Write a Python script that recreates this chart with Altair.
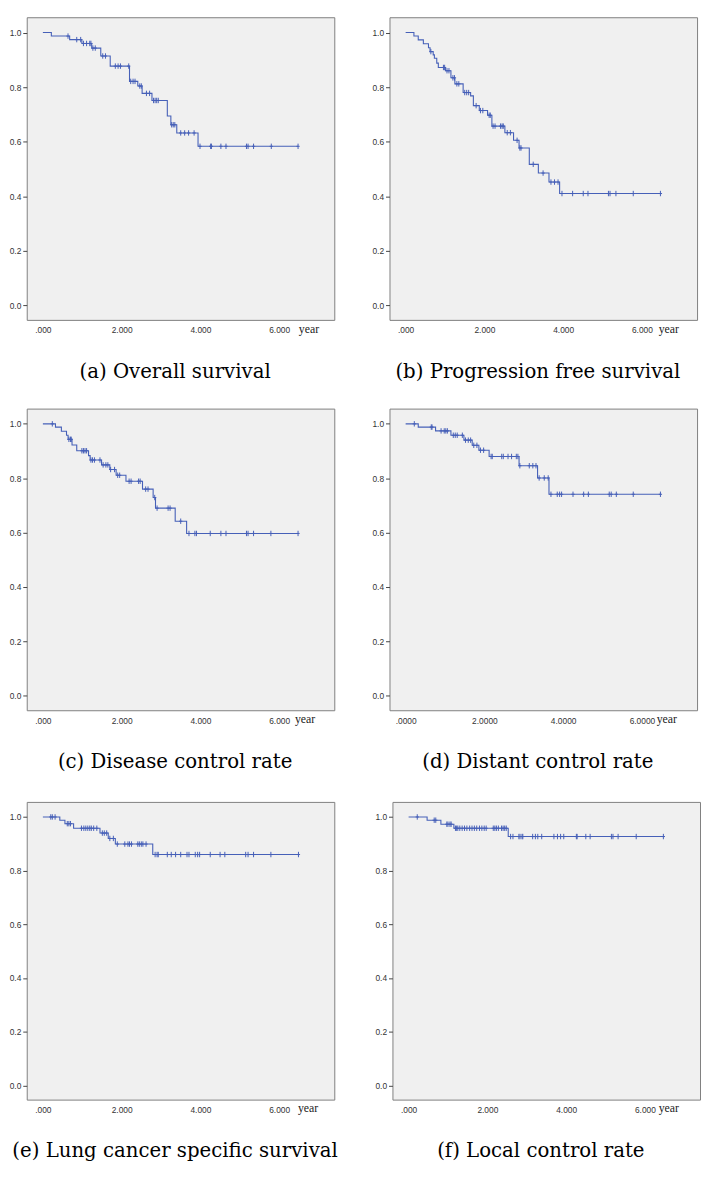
import altair as alt
import pandas as pd

BLUE = "#4660b8"
XDOM = [-0.41, 7.40]
YDOM = [-0.053, 1.056]
X_TICKS = [0, 2, 4, 6]
Y_TICKS = [0.0, 0.2, 0.4, 0.6, 0.8, 1.0]

# (a) Overall survival
a_event_t = [0.215, 0.68, 0.99, 1.24, 1.47, 1.71, 2.20, 2.41, 2.52, 2.77, 3.16, 3.25, 3.40, 3.94]
a_event_s = [0.987, 0.974, 0.960, 0.943, 0.914, 0.877, 0.821, 0.804, 0.777, 0.751, 0.694, 0.662, 0.632, 0.583]
a_censor_t = [0.638, 0.86, 0.96, 1.03, 1.11, 1.19, 1.22, 1.27, 1.33, 1.52, 1.59, 1.84, 1.91, 1.97, 2.18,
              2.23, 2.29, 2.34, 2.46, 2.50, 2.63, 2.71, 2.81, 2.85, 2.89, 2.93, 3.27, 3.31, 3.35, 3.50,
              3.60, 3.70, 3.84, 3.99, 4.26, 4.28, 4.52, 4.65, 5.17, 5.21, 5.35, 5.80, 6.48]

# (b) Progression free survival
b_event_t = [0.21, 0.32, 0.45, 0.58, 0.62, 0.70, 0.73, 0.79, 0.83, 1.01, 1.15, 1.25, 1.46, 1.65, 1.72,
             1.87, 2.08, 2.19, 2.52, 2.74, 2.88, 3.14, 3.37, 3.64, 3.91]
b_event_s = [0.987, 0.973, 0.959, 0.944, 0.930, 0.918, 0.906, 0.888, 0.872, 0.860, 0.834, 0.812, 0.780,
             0.768, 0.732, 0.714, 0.697, 0.657, 0.633, 0.605, 0.577, 0.517, 0.485, 0.452, 0.410]
b_censor_t = [0.64, 0.96, 0.99, 1.05, 1.10, 1.20, 1.24, 1.30, 1.35, 1.50, 1.55, 1.60, 1.79, 1.90, 1.96,
              2.12, 2.15, 2.22, 2.27, 2.41, 2.45, 2.48, 2.58, 2.66, 2.83, 2.90, 2.93, 3.24, 3.49, 3.69,
              3.78, 3.87, 3.97, 4.24, 4.51, 4.63, 5.15, 5.19, 5.34, 5.78, 6.47]

# (c) Disease control rate
c_event_t = [0.32, 0.47, 0.60, 0.64, 0.74, 0.86, 1.16, 1.20, 1.49, 1.70, 1.86, 2.11, 2.53, 2.80, 2.86,
             3.36, 3.65]
c_event_s = [0.988, 0.973, 0.958, 0.943, 0.922, 0.901, 0.883, 0.867, 0.849, 0.832, 0.811, 0.789, 0.760,
             0.729, 0.690, 0.642, 0.597]
c_censor_t = [0.24, 0.66, 0.70, 0.72, 0.99, 1.03, 1.07, 1.11, 1.22, 1.26, 1.31, 1.45, 1.53, 1.60, 1.65,
              1.72, 1.82, 1.90, 1.95, 2.19, 2.24, 2.43, 2.47, 2.61, 2.67, 2.84, 2.90, 3.18, 3.23, 3.50,
              3.71, 3.86, 3.90, 4.25, 4.52, 4.65, 5.17, 5.21, 5.35, 5.79, 6.48]

# (d) Distant control rate
d_event_t = [0.32, 0.76, 1.15, 1.48, 1.69, 1.86, 2.12, 2.88, 3.35, 3.64]
d_event_s = [0.988, 0.974, 0.958, 0.940, 0.921, 0.903, 0.880, 0.846, 0.801, 0.741]
d_censor_t = [0.22, 0.65, 0.67, 0.90, 0.98, 1.02, 1.06, 1.21, 1.26, 1.31, 1.44, 1.52, 1.59, 1.65, 1.73,
              1.81, 1.90, 1.98, 2.17, 2.20, 2.44, 2.48, 2.60, 2.69, 2.81, 2.85, 2.90, 3.14, 3.23, 3.31,
              3.39, 3.52, 3.62, 3.69, 3.85, 3.91, 3.96, 4.25, 4.52, 4.64, 5.17, 5.22, 5.35, 5.78, 6.47]

# (e) Lung cancer specific survival
e_event_t = [0.43, 0.56, 0.78, 1.45, 1.66, 1.84, 2.79]
e_event_s = [0.988, 0.975, 0.958, 0.940, 0.920, 0.899, 0.860]
e_censor_t = [0.20, 0.24, 0.31, 0.62, 0.66, 0.70, 0.98, 1.04, 1.09, 1.14, 1.19, 1.23, 1.29, 1.37, 1.51,
              1.56, 1.62, 1.70, 1.79, 1.89, 2.08, 2.16, 2.20, 2.25, 2.41, 2.45, 2.50, 2.54, 2.62, 2.85,
              2.90, 2.93, 3.16, 3.26, 3.37, 3.50, 3.66, 3.71, 3.87, 3.93, 3.98, 4.25, 4.50, 4.62, 5.15,
              5.21, 5.35, 5.79, 6.49]

# (f) Local control rate
f_event_t = [0.47, 0.82, 1.15, 2.53]
f_event_s = [0.988, 0.973, 0.958, 0.927]
f_censor_t = [0.22, 0.65, 0.69, 0.97, 1.00, 1.05, 1.08, 1.19, 1.22, 1.25, 1.30, 1.36, 1.42, 1.48, 1.55,
              1.61, 1.67, 1.73, 1.80, 1.86, 1.92, 1.97, 2.15, 2.19, 2.23, 2.28, 2.36, 2.40, 2.44, 2.48,
              2.59, 2.65, 2.80, 2.83, 2.88, 2.90, 3.15, 3.22, 3.28, 3.38, 3.69, 3.78, 3.86, 3.94, 4.26,
              4.28, 4.50, 4.61, 5.15, 5.19, 5.32, 5.78, 6.47]

captions = ["(a) Overall survival", "(b) Progression free survival", "(c)  Disease control rate",
            "(d)  Distant control rate", "(e) Lung cancer specific survival", "(f)  Local control rate"]
UNIT_LABEL = ["year"]


def surv_at(t, ev_t, ev_s):
    s = 1.0
    for et, es in zip(ev_t, ev_s):
        if et <= t:
            s = es
    return s


def panel(ev_t, ev_s, cens_t, caption, decimals, year_dx, height):
    line_df = pd.DataFrame({"t": [0.0] + ev_t + [max(cens_t)],
                            "s": [1.0] + ev_s + [ev_s[-1]]})
    cens_df = pd.DataFrame({"t": cens_t, "s": [surv_at(t, ev_t, ev_s) for t in cens_t]})
    unit_df = pd.DataFrame({"label": UNIT_LABEL, "t": [X_TICKS[-1]], "s": [YDOM[0]]})
    zero_lbl = "." + "0" * decimals
    x = alt.X("t:Q",
              scale=alt.Scale(domain=XDOM, nice=False, zero=False),
              axis=alt.Axis(values=X_TICKS, ticks=False, labelPadding=6,
                            labelExpr=f"datum.value == 0 ? '{zero_lbl}' : format(datum.value, '.{decimals}f')",
                            title=caption, titleX=150, titleY=52, titleAlign="center",
                            titleBaseline="middle", titleFont="DejaVu Serif", titleFontSize=20,
                            titleFontWeight="normal", titleColor="#000"))
    y = alt.Y("s:Q",
              scale=alt.Scale(domain=YDOM, nice=False, zero=False),
              axis=alt.Axis(values=Y_TICKS, format=".1f", title=None, tickSize=4, labelPadding=2,
                            minExtent=18, maxExtent=18))
    line = alt.Chart(line_df).mark_line(interpolate="step-after", color=BLUE, strokeWidth=1.1).encode(x=x, y=y)
    pts = alt.Chart(cens_df).mark_point(shape="M0,-1V1M-0.6,0H0.6", size=30, filled=False,
                                        color=BLUE, strokeWidth=1, opacity=1).encode(x="t:Q", y="s:Q")
    unit = alt.Chart(unit_df).mark_text(align="left", baseline="middle", dx=year_dx, dy=9,
                                        font="Liberation Serif", fontSize=12, color="#222").encode(
        x="t:Q", y="s:Q", text="label:N")
    return alt.layer(line, pts, unit).properties(width=312, height=height)


pa = panel(a_event_t, a_event_s, a_censor_t, captions[0], 3, 20, 307)
pb = panel(b_event_t, b_event_s, b_censor_t, captions[1], 3, 17, 307)
pc = panel(c_event_t, c_event_s, c_censor_t, captions[2], 3, 16, 306)
pd_ = panel(d_event_t, d_event_s, d_censor_t, captions[3], 4, 15, 306)
pe = panel(e_event_t, e_event_s, e_censor_t, captions[4], 3, 19, 302)
pf = panel(f_event_t, f_event_s, f_censor_t, captions[5], 3, 14, 302)

chart = alt.vconcat(
    alt.hconcat(pa, pb, spacing=36),
    alt.vconcat(
        alt.hconcat(pc, pd_, spacing=36),
        alt.hconcat(pe, pf, spacing=36),
        spacing=29,
    ),
    spacing=26,
).properties(
    padding=0
).configure_view(
    fill="#f0f0f0", stroke="#7f7f7f", strokeWidth=1
).configure_axis(
    domain=False, grid=False, labelFont="Liberation Sans", labelFontSize=8.5,
    labelColor="#333", tickColor="#444"
)

chart.save("out.html", embed_options={"renderer": "svg", "actions": False})
